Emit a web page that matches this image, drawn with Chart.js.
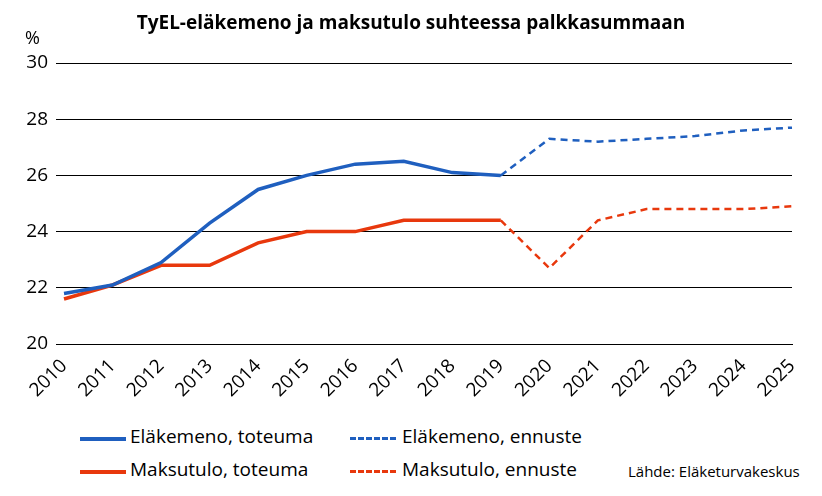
<!DOCTYPE html><html><head><meta charset="utf-8">
<script src="https://cdn.jsdelivr.net/npm/chart.js@4"></script>
<style>
body{margin:0;width:822px;height:496px;background:#fff;font-family:"Open Sans","Liberation Sans",sans-serif;position:relative;overflow:hidden}
#c{position:absolute;left:0;top:0}
.t{position:absolute;white-space:nowrap;color:#000}
.sw{position:absolute;height:0;width:46px}
</style></head><body>
<canvas id="c" width="822" height="420"></canvas>
<div class="t" style="left:0;width:822px;text-align:center;top:9px;font-weight:bold;font-size:19px">TyEL-eläkemeno ja maksutulo suhteessa palkkasummaan</div>
<div class="t" style="left:25px;top:25px;font-size:18px">%</div>
<div class="sw" style="left:80px;top:437px;border-top:4px solid #1f5fbf"></div>
<div class="t" style="left:130px;top:423px;font-size:19px">Eläkemeno, toteuma</div>
<div class="sw" style="left:350px;top:437px;border-top:3px dashed #1f5fbf"></div>
<div class="t" style="left:402px;top:423px;font-size:19px">Eläkemeno, ennuste</div>
<div class="sw" style="left:80px;top:470px;border-top:4px solid #e8380d"></div>
<div class="t" style="left:130px;top:456px;font-size:19px">Maksutulo, toteuma</div>
<div class="sw" style="left:350px;top:470px;border-top:3px dashed #e8380d"></div>
<div class="t" style="left:402px;top:456px;font-size:19px">Maksutulo, ennuste</div>
<div class="t" style="left:628px;top:461px;font-size:15px">Lähde: Eläketurvakeskus</div>
<script>
const years=["2010","2011","2012","2013","2014","2015","2016","2017","2018","2019","2020","2021","2022","2023","2024","2025"];
const elakeToteuma=[21.8,22.1,22.9,24.3,25.5,26.0,26.4,26.5,26.1,26.0,null,null,null,null,null,null];
const elakeEnnuste=[null,null,null,null,null,null,null,null,null,26.0,27.3,27.2,27.3,27.4,27.6,27.7];
const maksuToteuma=[21.6,22.1,22.8,22.8,23.6,24.0,24.0,24.4,24.4,24.4,null,null,null,null,null,null];
const maksuEnnuste=[null,null,null,null,null,null,null,null,null,24.4,22.7,24.4,24.8,24.8,24.8,24.9];
const B="#1f5fbf",R="#e8380d";
new Chart(document.getElementById('c'),{type:'line',
data:{labels:years,datasets:[
{data:elakeToteuma,borderColor:B,borderWidth:3.5,pointRadius:0,tension:0},
{data:elakeEnnuste,borderColor:B,borderWidth:2.5,borderDash:[7,5],pointRadius:0},
{data:maksuToteuma,borderColor:R,borderWidth:3.5,pointRadius:0},
{data:maksuEnnuste,borderColor:R,borderWidth:2.5,borderDash:[7,5],pointRadius:0}]},
options:{responsive:false,animation:false,
layout:{padding:{top:63,right:30,left:0,bottom:0}},
plugins:{legend:{display:false},tooltip:{enabled:false}},
scales:{
x:{offset:false,grid:{display:false},border:{color:'#000'},
ticks:{color:'#000',font:{size:19,family:'"Open Sans"'},maxRotation:45,minRotation:45,autoSkip:false},
afterFit(s){s.height=76}},
y:{min:20,max:30,grid:{color:'#000',lineWidth:1},border:{display:false},
ticks:{stepSize:2,color:'#000',font:{size:19,family:'"Open Sans"'},padding:8},
afterFit(s){s.width=64}}}}});
</script></body></html>
